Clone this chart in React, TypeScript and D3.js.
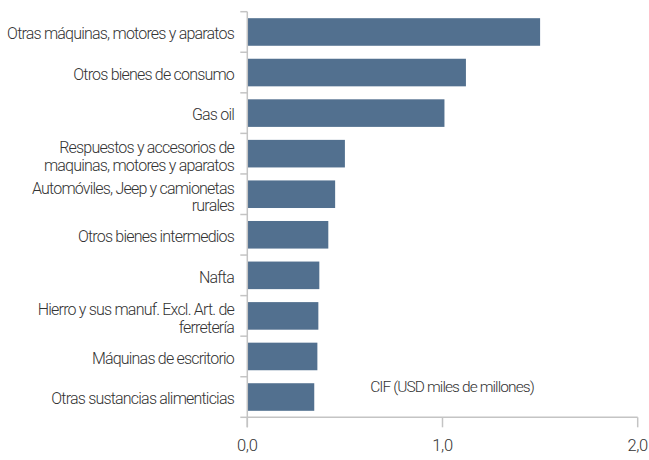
import { useEffect, useRef } from "react"
import * as d3 from "d3"

const categories = [
  "Otras máquinas, motores y aparatos",
  "Otros bienes de consumo",
  "Gas oil",
  "Respuestos y accesorios de\nmaquinas, motores y aparatos",
  "Automóviles, Jeep y camionetas\nrurales",
  "Otros bienes intermedios",
  "Nafta",
  "Hierro y sus manuf. Excl. Art. de\nferretería",
  "Máquinas de escritorio",
  "Otras sustancias alimenticias",
]

const values = [1.5, 1.12, 1.01, 0.5, 0.45, 0.415, 0.369, 0.364, 0.359, 0.343]

const xTicks = [0, 1, 2]

const unitLabel = "CIF (USD miles de millones)"

export default function App() {
  const svgRef = useRef<SVGSVGElement>(null)

  useEffect(() => {
    if (!svgRef.current) return
    const svg = d3.select(svgRef.current)
    svg.selectAll("*").remove()

    const width = 649
    const height = 460
    const font = "Roboto, 'Noto Sans', sans-serif"
    const axisColor = "#c4c4c4"
    const textColor = "#333333"

    svg.attr("width", width).attr("height", height)

    const x = d3.scaleLinear().domain([0, 2]).range([247.3, 637.7])
    const y = d3
      .scaleBand<string>()
      .domain(categories)
      .range([11.7, 417.3])
      .paddingInner(0.32)
      .paddingOuter(0.16)

    const step = y.step()
    const top = 11.7
    const bottom = 417.3

    // bars
    svg
      .append("g")
      .selectAll("rect")
      .data(categories)
      .join("rect")
      .attr("x", x(0))
      .attr("y", (d) => y(d)!)
      .attr("width", (d, i) => x(values[i]) - x(0))
      .attr("height", y.bandwidth())
      .attr("fill", "#52708f")

    // y axis line + boundary ticks
    svg
      .append("line")
      .attr("x1", x(0))
      .attr("x2", x(0))
      .attr("y1", top)
      .attr("y2", bottom + 10)
      .attr("stroke", axisColor)
      .attr("stroke-width", 1.5)

    d3.range(categories.length + 1).forEach((i) => {
      const yy = top + i * step
      svg
        .append("line")
        .attr("x1", x(0) - 7)
        .attr("x2", x(0))
        .attr("y1", yy)
        .attr("y2", yy)
        .attr("stroke", axisColor)
        .attr("stroke-width", 1.5)
    })

    // x axis
    svg
      .append("line")
      .attr("x1", x(0))
      .attr("x2", x(2))
      .attr("y1", bottom)
      .attr("y2", bottom)
      .attr("stroke", axisColor)
      .attr("stroke-width", 1.5)

    xTicks.forEach((t) => {
      svg
        .append("line")
        .attr("x1", x(t))
        .attr("x2", x(t))
        .attr("y1", bottom)
        .attr("y2", bottom + 10)
        .attr("stroke", axisColor)
        .attr("stroke-width", 1.5)

      svg
        .append("text")
        .attr("x", x(t))
        .attr("y", 447)
        .attr("text-anchor", "middle")
        .attr("dominant-baseline", "middle")
        .attr("font-family", font)
        .attr("font-weight", 300)
        .attr("font-size", 16.5)
        .attr("letter-spacing", -0.3)
        .attr("fill", textColor)
        .text(d3.format(".1f")(t).replace(".", ","))
    })

    // category labels
    categories.forEach((c) => {
      const lines = c.split("\n")
      const multi = lines.length > 1
      const cy = y(c)! + y.bandwidth() / 2 + (multi ? 4 : 3)
      const lh = 17.5
      const text = svg
        .append("text")
        .attr("text-anchor", "end")
        .attr("font-family", font)
        .attr("font-weight", 300)
        .attr("font-size", 16)
        .attr("letter-spacing", -0.8)
        .attr("fill", textColor)
      lines.forEach((l, i) => {
        text
          .append("tspan")
          .attr("x", 234)
          .attr("y", cy + (i - (lines.length - 1) / 2) * lh)
          .attr("dominant-baseline", "middle")
          .text(l)
      })
    })

    svg
      .append("text")
      .attr("x", 452)
      .attr("y", 388)
      .attr("text-anchor", "middle")
      .attr("dominant-baseline", "middle")
      .attr("font-family", font)
      .attr("font-weight", 300)
      .attr("font-size", 15.5)
      .attr("letter-spacing", -0.9)
      .attr("fill", textColor)
      .text(unitLabel)
  }, [])

  return <svg ref={svgRef} style={{ position: "absolute", left: 0, top: 0 }} />
}
